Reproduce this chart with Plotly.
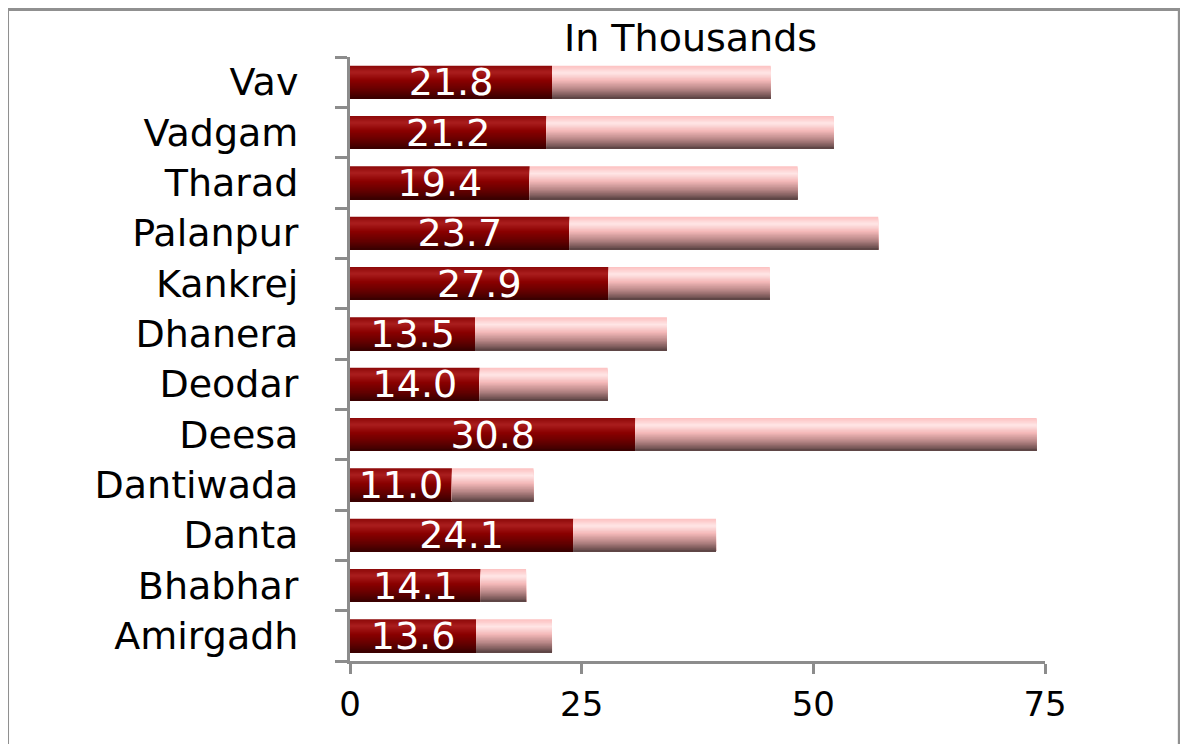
import plotly.graph_objs as go

# talukas, bottom to top as plotly draws categories
talukas = ['Amirgadh', 'Bhabhar', 'Danta', 'Dantiwada', 'Deesa', 'Deodar',
           'Dhanera', 'Kankrej', 'Palanpur', 'Tharad', 'Vadgam', 'Vav']
# first (labelled) segment, in thousands
part_a = [13.6, 14.1, 24.1, 11.0, 30.8, 14.0, 13.5, 27.9, 23.7, 19.4, 21.2, 21.8]
# bar totals, in thousands
totals = [21.8, 19.0, 39.5, 19.8, 74.1, 27.8, 34.2, 45.3, 57.0, 48.3, 52.2, 45.4]
part_b = [round(t - a, 1) for t, a in zip(totals, part_a)]

x_ticks = [0, 25, 50, 75]

FONT = 'DejaVu Sans'
BAR_W = 0.655
N_BANDS = 30

# vertical shading stops (0 = top edge, 1 = bottom edge)
dark_stops = [(0.0, (0x8c, 0x08, 0x08)), (0.2, (0xaa, 0x1e, 0x1e)), (0.45, (0x8a, 0x00, 0x00)),
              (0.75, (0x62, 0x00, 0x00)), (1.0, (0x38, 0x00, 0x00))]
light_stops = [(0.0, (0xfc, 0xc0, 0xc0)), (0.22, (0xff, 0xe6, 0xe6)), (0.45, (0xf4, 0xb8, 0xb8)),
               (0.72, (0xb4, 0x84, 0x84)), (1.0, (0x5a, 0x42, 0x42))]


def shade(stops, t):
    """
    Colour of the gradient at position t (0 top, 1 bottom)
    """
    for (t0, c0), (t1, c1) in zip(stops, stops[1:]):
        if t <= t1:
            f = (t - t0) / (t1 - t0)
            rgb = [round(c0[k] + (c1[k] - c0[k]) * f) for k in range(3)]
            return 'rgb(%d,%d,%d)' % tuple(rgb)
    return 'rgb(%d,%d,%d)' % stops[-1][1]


def add_segment(fig, length, base, stops):
    """
    Draws one bar segment as layered bands, each reaching down to the bar bottom,
    so the segment gets a shaded look without seams
    """
    band = BAR_W / N_BANDS
    for i in range(N_BANDS):
        t = (i + 0.5) / N_BANDS
        fig.add_trace(go.Bar(
            y=talukas, x=length, base=base, orientation='h',
            width=BAR_W - band * i, offset=-BAR_W / 2,
            marker=dict(color=shade(stops, t), line=dict(width=0)),
            showlegend=False, hoverinfo='skip'))


fig = go.Figure()
add_segment(fig, part_a, [0] * len(talukas), dark_stops)
add_segment(fig, part_b, part_a, light_stops)

# transparent bar on top carrying the value labels
fig.add_trace(go.Bar(
    y=talukas, x=part_a, orientation='h', width=BAR_W,
    marker=dict(color='rgba(0,0,0,0)', line=dict(width=0)),
    text=['%.1f' % v for v in part_a], textposition='inside',
    insidetextanchor='middle', constraintext='none', textangle=0,
    textfont=dict(family=FONT, size=38, color='white'),
    showlegend=False, hovertemplate='%{y}: %{x}<extra></extra>'))

# grey frame round the chart
fig.add_shape(type='rect', xref='paper', yref='paper',
              x0=-0.4935, x1=1.194, y0=-0.3, y1=1.0795,
              line=dict(color='#909090', width=4))

# the page body adds 8px, so the figure is drawn 8px smaller
fig.update_layout(
    width=1180, height=736,
    barmode='overlay',
    paper_bgcolor='white', plot_bgcolor='white',
    margin=dict(l=342, r=143, t=49, b=83),
    font=dict(family=FONT, color='black'),
    title=dict(text='In Thousands', font=dict(family=FONT, size=38, color='black'),
               x=0.49, xref='paper', xanchor='center',
               y=1 - 30 / 736, yref='container', yanchor='middle'),
    xaxis=dict(range=[0, 75], tickvals=x_ticks, ticktext=[str(v) for v in x_ticks],
               showgrid=False, zeroline=False, showline=True, linecolor='#8c8c8c', linewidth=3,
               ticks='outside', ticklen=10, tickwidth=3, tickcolor='#8c8c8c',
               ticklabelstandoff=1, tickfont=dict(family=FONT, size=34, color='black'),
               fixedrange=True),
    yaxis=dict(showgrid=False, zeroline=False, showline=True, linecolor='#8c8c8c', linewidth=3,
               ticks='outside', ticklen=12, tickwidth=3, tickcolor='#8c8c8c',
               tickson='boundaries', ticklabelstandoff=41,
               tickfont=dict(family=FONT, size=38, color='black'), fixedrange=True),
)

fig.write_html("out.html")
